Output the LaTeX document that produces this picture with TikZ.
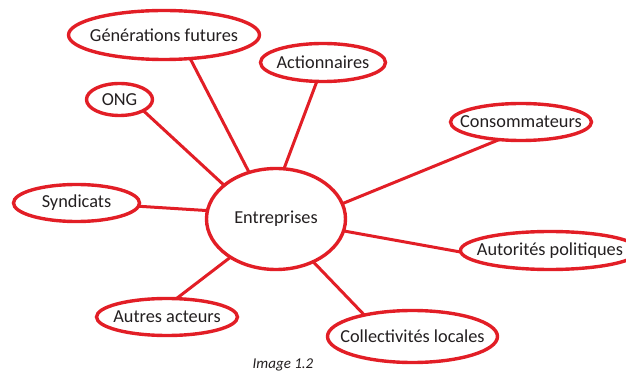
\documentclass[tikz,border=0pt]{standalone}
\usepackage{fontspec}
\setmainfont{Carlito}
\usetikzlibrary{shapes.geometric}
\definecolor{bubred}{RGB}{226,30,38}
\definecolor{ink}{RGB}{35,31,32}
% label set in a zero-width box so the ellipse keeps its given size
\newcommand{\bublabel}[1]{\makebox[0pt][c]{#1}}
\begin{document}
\begin{tikzpicture}[x=1pt,y=-1pt,
  bub/.style={ellipse, draw=bubred, line width=3.4pt, inner sep=0pt, outer sep=0pt,
    text=ink, font=\fontsize{18.3}{20}\selectfont},
  conn/.style={draw=bubred, line width=3pt}]
\useasboundingbox (0,0) rectangle (626,371);
\clip (0,0) rectangle (626,371);
% central actor
\node[bub, minimum width=139pt, minimum height=101pt] (ent) at (276,219) {\bublabel{Entreprises}};
% stakeholders around it
\node[bub, minimum width=191pt, minimum height=49pt] (gf) at (164,35) {\bublabel{Générations futures}};
\node[bub, minimum width=125pt, minimum height=38pt] (act) at (323,62.5) {\bublabel{Actionnaires}};
\node[bub, minimum width=66pt, minimum height=32pt] (ong) at (119.5,99.5) {\bublabel{ONG}};
\node[bub, minimum width=126pt, minimum height=37pt] (syn) at (76.5,203) {\bublabel{Syndicats}};
\node[bub, minimum width=141pt, minimum height=37pt] (cons) at (521,122) {\bublabel{Consommateurs}};
\node[bub, minimum width=179pt, minimum height=38pt] (aut) at (550,250.5) {\bublabel{Autorités politiques}};
\node[bub, minimum width=170pt, minimum height=52pt] (coll) at (412.5,336.5) {\bublabel{Collectivités locales}};
\node[bub, minimum width=141pt, minimum height=37pt] (autres) at (167,317) {\bublabel{Autres acteurs}};
% spokes
\draw[conn] (ent.120.8) -- (gf.-42.9);
\draw[conn] (ent.81) -- (act.-108.9);
\draw[conn] (ent.147.3) -- (ong.-25.8);
\draw[conn] (ent.173.6) -- (syn.-3.5);
\draw[conn] (ent.13.4) -- (cons.-141);
\draw[conn] (ent.-10.7) -- (aut.181);
\draw[conn] (ent.-49.7) -- (coll.156.7);
\draw[conn] (ent.-140.8) -- (autres.63.4);
% caption
\node[text=ink, font=\fontsize{15}{17}\selectfont\itshape, anchor=base] (cap) at (283,368.5) {Image 1.2};
\end{tikzpicture}
\end{document}
